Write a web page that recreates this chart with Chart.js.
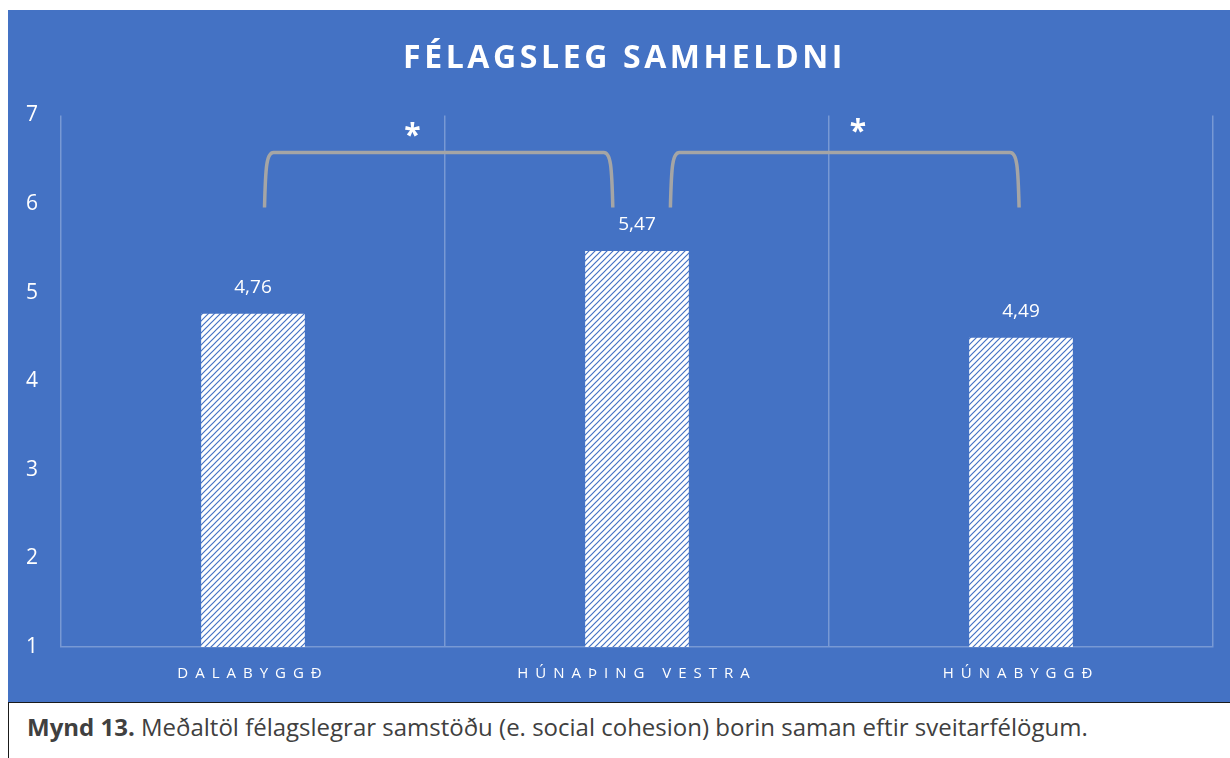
<!DOCTYPE html>
<html>
<head>
<meta charset="utf-8">
<script src="https://cdn.jsdelivr.net/npm/chart.js@4.4.1/dist/chart.umd.min.js"></script>
<style>
  html, body { margin: 0; padding: 0; background: #ffffff; }
  #panel { position: absolute; left: 8px; top: 10px; width: 1222px; height: 692px; background: #4472c4; }
  #caption {
    position: absolute; left: 8px; top: 702px; width: 1240px; height: 70px;
    border: 1px solid #1a1a1a; box-sizing: border-box; background: #fff;
    font-family: "Open Sans", sans-serif; font-size: 24px; color: #404040;
    padding: 7px 0 0 18px; white-space: nowrap;
  }
</style>
</head>
<body>
<div id="panel"><canvas id="chart"></canvas></div>
<div id="caption"><b>Mynd 13.</b> Meðaltöl félagslegrar samstöðu (e. social cohesion) borin saman eftir sveitarfélögum.</div>
<script>
const categories = ["DALABYGGÐ", "HÚNAÞING VESTRA", "HÚNABYGGÐ"];
const means = [4.76, 5.47, 4.49];
const yTicks = [1, 2, 3, 4, 5, 6, 7];
// significant pairs (category indices), drawn as brackets with a star
const sigPairs = [[0, 1], [1, 2]];
const chartTitle = "FÉLAGSLEG SAMHELDNI";

const BLUE = "#4472c4";
const GRID = "rgba(255,255,255,0.28)";
const FONT = "'Open Sans', sans-serif";

function hatchPattern() {
  const c = document.createElement("canvas");
  c.width = 6; c.height = 6;
  const g = c.getContext("2d");
  g.fillStyle = "#ffffff";
  g.fillRect(0, 0, 6, 6);
  g.strokeStyle = BLUE;
  g.lineWidth = 1.2;
  g.beginPath();
  g.moveTo(-1, 7); g.lineTo(7, -1);
  g.moveTo(-1, 1); g.lineTo(1, -1);
  g.moveTo(5, 7); g.lineTo(7, 5);
  g.stroke();
  return g.createPattern(c, "repeat");
}

// letter-spaced title and x labels
const spacingPlugin = {
  id: "spacing",
  afterLayout(chart) {
    const ctx = chart.ctx;
    const sx = chart.scales.x;
    if (!sx._spaced) {
      const orig = sx.drawLabels.bind(sx);
      sx.drawLabels = (area) => { ctx.save(); ctx.letterSpacing = "7px"; orig(area); ctx.restore(); };
      sx._spaced = true;
    }
    const tb = chart.titleBlock;
    if (tb && !tb._spaced) {
      const origT = tb.draw.bind(tb);
      tb.draw = () => { ctx.save(); ctx.letterSpacing = "3.6px"; ctx.translate(14, 0); origT(); ctx.restore(); };
      tb._spaced = true;
    }
  }
};

const valueLabels = {
  id: "valueLabels",
  afterDatasetsDraw(chart) {
    const ctx = chart.ctx;
    const meta = chart.getDatasetMeta(0);
    ctx.save();
    ctx.fillStyle = "#ffffff";
    ctx.font = "19px " + FONT;
    ctx.textAlign = "center";
    ctx.textBaseline = "middle";
    meta.data.forEach((bar, i) => {
      ctx.fillText(means[i].toFixed(2).replace(".", ","), bar.x, bar.y - 26);
    });
    ctx.restore();
  }
};

const brackets = {
  id: "brackets",
  afterDatasetsDraw(chart) {
    const ctx = chart.ctx;
    const sx = chart.scales.x, sy = chart.scales.y;
    const yt = sy.getPixelForValue(6.58);
    const yb = sy.getPixelForValue(5.96);
    ctx.save();
    ctx.strokeStyle = "#a5a5a5";
    ctx.lineWidth = 3.5;
    sigPairs.forEach(([a, b], k) => {
      const xl = sx.getPixelForValue(k === 0 ? a + 0.03 : a + 0.087);
      const xr = sx.getPixelForValue(k === 0 ? b - 0.063 : b - 0.005);
      ctx.beginPath();
      ctx.moveTo(xl, yb);
      ctx.bezierCurveTo(xl + 1, yt + 14, xl + 2, yt, xl + 9, yt);
      ctx.lineTo(xr - 9, yt);
      ctx.bezierCurveTo(xr - 2, yt, xr - 1, yt + 14, xr, yb);
      ctx.stroke();
      const xs = sx.getPixelForValue(k === 0 ? 0.415 : 1.575);
      ctx.fillStyle = "#ffffff";
      ctx.font = "bold 30px " + FONT;
      ctx.textAlign = "center";
      ctx.textBaseline = "middle";
      ctx.fillText("*", xs, sy.getPixelForValue(k === 0 ? 6.83 : 6.87) + 6);
    });
    ctx.restore();
  }
};

new Chart(document.getElementById("chart"), {
  type: "bar",
  data: {
    labels: categories,
    datasets: [{
      data: means,
      backgroundColor: hatchPattern(),
      borderWidth: 0,
      categoryPercentage: 1,
      barPercentage: 0.27
    }]
  },
  options: {
    responsive: true,
    maintainAspectRatio: false,
    animation: false,
    layout: { padding: { left: 0, right: 17, top: 0, bottom: 1 } },
    plugins: {
      legend: { display: false },
      tooltip: { enabled: false },
      title: {
        display: true,
        text: chartTitle,
        color: "#ffffff",
        font: { family: FONT, size: 32, weight: "bold" },
        padding: { top: 30, bottom: 37 }
      }
    },
    scales: {
      x: {
        grid: { display: true, offset: true, color: GRID, lineWidth: 1.5, drawTicks: false },
        border: { display: true, color: GRID, width: 1.5 },
        ticks: { color: "#ffffff", font: { family: FONT, size: 15 }, padding: 18 }
      },
      y: {
        min: yTicks[0],
        max: yTicks[yTicks.length - 1],
        afterBuildTicks: (s) => { s.ticks = yTicks.map((v) => ({ value: v })); },
        afterFit: (s) => { s.width = 53; },
        grid: { display: false },
        border: { display: false },
        ticks: { color: "#ffffff", font: { family: FONT, size: 21 }, padding: 15 }
      }
    }
  },
  plugins: [spacingPlugin, valueLabels, brackets]
});
</script>
</body>
</html>
